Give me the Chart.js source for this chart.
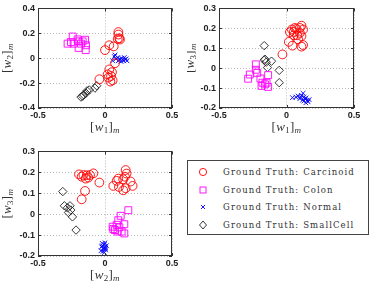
<!DOCTYPE html>
<html>
<head>
<meta charset="utf-8">
<script src="https://cdn.jsdelivr.net/npm/chart.js@4.4.1/dist/chart.umd.min.js"></script>
<style>
  body { margin: 0; background: #fff; width: 374px; height: 286px; position: relative; overflow: hidden; }
  canvas { position: absolute; }
  #legend { position: absolute; left: 187px; top: 160px; width: 182px; height: 75px; box-sizing: border-box;
            border: 1px solid #444; background: #fff; }
  .row { position: absolute; left: 0; height: 14px; font: 8.5px "DejaVu Serif", serif; letter-spacing: 1.1px;
         color: #333; white-space: nowrap; line-height: 14px; }
  .row svg { position: absolute; left: 10px; top: 2px; }
  .row span { position: absolute; left: 35px; }
</style>
</head>
<body>
<canvas id="c1" width="187" height="143" style="left:0;top:0"></canvas>
<canvas id="c2" width="187" height="143" style="left:187px;top:0"></canvas>
<canvas id="c3" width="187" height="143" style="left:0;top:143px"></canvas>
<div id="legend">
  <div class="row" style="top:4px"><svg width="10" height="10"><circle cx="5" cy="5" r="3.6" fill="none" stroke="#f00" stroke-width="0.9"/></svg><span>Ground Truth: Carcinoid</span></div>
  <div class="row" style="top:22px"><svg width="10" height="10"><rect x="2" y="2" width="6" height="6" fill="none" stroke="#f0f" stroke-width="0.9"/></svg><span>Ground Truth: Colon</span></div>
  <div class="row" style="top:39px"><svg width="10" height="10"><path d="M3 3L7 7M7 3L3 7" stroke="#00f" stroke-width="0.9"/></svg><span>Ground Truth: Normal</span></div>
  <div class="row" style="top:57px"><svg width="10" height="10"><path d="M5 1L8.5 5L5 9L1.5 5Z" fill="none" stroke="#222" stroke-width="0.9"/></svg><span>Ground Truth: SmallCell</span></div>
</div>
<script>
// tick values
const xTicks = [-0.5, 0, 0.5];
const yTicks1 = [-0.4, -0.2, 0, 0.2, 0.4];
const yTicks23 = [-0.2, -0.1, 0, 0.1, 0.2, 0.3];

// panel 1: w1 vs w2
const carcinoid12 = [[0.10,0.21],[0.10,0.19],[0.107,0.16],[0.112,0.15],[0.095,0.155],[0.065,0.095],[0.032,0.104],[0.0,0.065],
  [0.075,-0.04],[0.032,-0.09],[0.052,-0.112],[0.02,-0.13],[0.045,-0.143],[0.025,-0.156],[0.057,-0.177],[0.04,-0.188],[-0.042,-0.169]];
const colon12 = [[-0.241,0.174],[-0.279,0.117],[-0.234,0.117],[-0.197,0.135],[-0.149,0.148],[-0.142,0.104],[-0.144,0.065],
  [-0.197,0.083],[-0.179,0.117],[-0.254,0.13],[-0.167,0.135],[-0.204,0.151]];
const normal12 = [[0.07,0.013],[0.082,-0.005],[0.107,-0.013],[0.124,0],[0.139,-0.021],[0.157,-0.005],[0.119,-0.026],[0.095,0.005],
  [0.144,0.005],[0.114,-0.008],[0.132,-0.013],[0.164,-0.021],[0.057,-0.021],[0.075,0.026],[0.15,-0.01],[0.1,-0.02]];
const smallcell12 = [[-0.179,-0.312],[-0.167,-0.305],[-0.159,-0.294],[-0.142,-0.281],[-0.134,-0.262],[-0.117,-0.255],[-0.075,-0.24],[-0.062,-0.221]];

// panel 2: w1 vs w3
const carcinoid13 = [[0.04,0.194],[0.054,0.182],[0.074,0.197],[0.099,0.202],[0.111,0.213],[0.123,0.194],[0.099,0.177],[0.054,0.165],
  [0.079,0.165],[0.111,0.161],[0.017,0.132],[0.044,0.113],[0.123,0.116],[0.111,0.108],[0.086,0.145],[0.062,0.202],[0.025,0.181],[-0.03,0.069]];
const colon13 = [[-0.227,0.019],[-0.227,-0.008],[-0.272,-0.032],[-0.284,-0.053],[-0.193,-0.052],[-0.178,-0.073],[-0.148,-0.073],
  [-0.136,-0.035],[-0.185,-0.089],[-0.136,-0.094],[-0.16,-0.081],[-0.217,-0.024]];
const normal13 = [[0.044,-0.148],[0.069,-0.145],[0.086,-0.14],[0.111,-0.137],[0.123,-0.126],[0.136,-0.153],[0.153,-0.161],[0.119,-0.161],
  [0.143,-0.174],[0.168,-0.158],[0.099,-0.153],[0.128,-0.145],[0.16,-0.169],[0.13,-0.165],[0.105,-0.145],[0.145,-0.15]];
const smallcell13 = [[-0.165,0.113],[-0.165,0.04],[-0.111,0.035],[-0.141,0.003],[-0.054,-0.011],[-0.054,-0.073],[-0.15,0.03],[-0.16,0.045]];

// panel 3: w2 vs w3
const carcinoid23 = [[-0.194,0.19],[-0.174,0.179],[-0.136,0.186],[-0.124,0.175],[-0.087,0.195],[-0.112,0.187],[-0.144,0.17],[-0.042,0.151],
  [-0.149,0.111],[-0.174,0.071],[-0.161,0.187],[0.062,0.135],[0.087,0.159],[0.099,0.17],[0.154,0.211],[0.161,0.194],[0.149,0.179],
  [0.136,0.167],[0.191,0.156],[0.206,0.135],[0.136,0.114],[0.154,0.124],[0.104,0.13]];
const colon23 = [[0.174,0.019],[0.117,-0.008],[0.099,-0.029],[0.057,-0.06],[0.087,-0.051],[0.074,-0.076],[0.107,-0.063],[0.144,-0.048],
  [0.124,-0.083],[0.144,-0.092],[0.094,-0.083],[0.062,-0.071]];
const normal23 = [[-0.02,-0.14],[-0.005,-0.146],[-0.025,-0.156],[0,-0.159],[-0.012,-0.167],[0.005,-0.171],[-0.03,-0.175],[-0.005,-0.183],
  [-0.02,-0.151],[-0.01,-0.162],[0,-0.137],[0.01,-0.151],[-0.015,-0.178],[0.005,-0.163]];
const smallcell23 = [[-0.315,0.108],[-0.303,0.04],[-0.261,0.04],[-0.273,0.008],[-0.243,-0.013],[-0.216,-0.076],[-0.28,0.03],[-0.255,0.02]];

const toXY = arr => arr.map(([x, y]) => ({x, y}));

function sets(carc, colon, normal, small) {
  return [
    {label: 'Carcinoid', data: toXY(carc), pointStyle: 'circle', pointRadius: 4.4, borderColor: '#ff0000'},
    {label: 'Colon', data: toXY(colon), pointStyle: 'rect', pointRadius: 4.9, borderColor: '#ff00ff'},
    {label: 'Normal', data: toXY(normal), pointStyle: 'crossRot', pointRadius: 3.3, borderColor: '#0000ff'},
    {label: 'SmallCell', data: toXY(small), pointStyle: 'rectRot', pointRadius: 4.2, borderColor: '#222'}
  ].map(d => Object.assign(d, {backgroundColor: 'rgba(0,0,0,0)', pointBorderWidth: 0.9, pointHoverRadius: d.pointRadius}));
}

function fmt(v) { return String(Math.round(v * 10) / 10); }

// draws "[w_k]_m" with italic w and subscripts
function axisLabel(ctx, cx, cy, k, rotate) {
  const big = '13px "Liberation Serif", serif';
  const bigI = 'italic 13px "Liberation Serif", serif';
  const sm = '9px "Liberation Serif", serif';
  const smI = 'italic 9px "Liberation Serif", serif';
  const parts = [['[', big, 0], ['w', bigI, 0], [k, sm, 3], [']', big, 0], ['m', smI, 3]];
  let total = 0;
  parts.forEach(p => { ctx.font = p[1]; p.push(ctx.measureText(p[0]).width + 0.3); total += p[3]; });
  ctx.save();
  ctx.translate(cx, cy);
  if (rotate) ctx.rotate(-Math.PI / 2);
  ctx.fillStyle = '#333';
  ctx.textBaseline = 'middle';
  let x = -total / 2;
  parts.forEach(p => { ctx.font = p[1]; ctx.fillText(p[0], x, p[2]); x += p[3]; });
  ctx.restore();
}

const boxPlugin = {
  id: 'box',
  afterDraw(chart) {
    const {ctx, chartArea: a, scales} = chart;
    const o = chart.options.plugins.box;
    ctx.save();
    ctx.strokeStyle = '#333';
    ctx.lineWidth = 1;
    ctx.strokeRect(Math.round(a.left) + 0.5, Math.round(a.top) + 0.5, Math.round(a.right - a.left) - 1, Math.round(a.bottom - a.top) - 1);
    ctx.beginPath();
    scales.x.ticks.forEach(t => {
      const px = Math.round(scales.x.getPixelForValue(t.value)) + 0.5;
      ctx.moveTo(px, a.bottom); ctx.lineTo(px, a.bottom - 3);
      ctx.moveTo(px, a.top); ctx.lineTo(px, a.top + 3);
    });
    scales.y.ticks.forEach(t => {
      const py = Math.round(scales.y.getPixelForValue(t.value)) + 0.5;
      ctx.moveTo(a.left, py); ctx.lineTo(a.left + 3, py);
      ctx.moveTo(a.right, py); ctx.lineTo(a.right - 3, py);
    });
    ctx.stroke();
    ctx.restore();
    axisLabel(ctx, (a.left + a.right) / 2, a.bottom + o.xGap, o.xk, false);
    axisLabel(ctx, o.yX, (a.top + a.bottom) / 2, o.yk, true);
  }
};

function makeChart(id, data, yTicks, yMin, yMax, pad, yW, xH, lab) {
  const gridCommon = {color: '#b8b8b8', lineWidth: 1, drawTicks: false};
  return new Chart(document.getElementById(id), {
    type: 'scatter',
    data: {datasets: data},
    plugins: [boxPlugin],
    options: {
      responsive: false,
      animation: false,
      layout: {padding: pad},
      plugins: {legend: {display: false}, tooltip: {enabled: false}, box: lab},
      scales: {
        x: {
          min: -0.5, max: 0.5,
          afterBuildTicks: s => { s.ticks = xTicks.map(v => ({value: v})); },
          afterFit: s => { s.height = xH; },
          grid: gridCommon,
          border: {display: false, dash: [1, 2]},
          ticks: {callback: fmt, padding: 2, color: '#222', font: {family: 'Liberation Sans', size: 9, weight: 'bold'}, maxRotation: 0}
        },
        y: {
          min: yMin, max: yMax,
          afterBuildTicks: s => { s.ticks = yTicks.map(v => ({value: v})); },
          afterFit: s => { s.width = yW; },
          grid: gridCommon,
          border: {display: false, dash: [1, 2]},
          ticks: {callback: fmt, padding: 3, color: '#222', font: {family: 'Liberation Sans', size: 9, weight: 'bold'}}
        }
      }
    }
  });
}

makeChart('c1', sets(carcinoid12, colon12, normal12, smallcell12), yTicks1, -0.4, 0.4,
  {top: 6, right: 15, left: 0, bottom: 0}, 38, 35, {xk: '1', yk: '2', xGap: 20, yX: 8});
makeChart('c2', sets(carcinoid13, colon13, normal13, smallcell13), yTicks23, -0.2, 0.3,
  {top: 5, right: 20, left: 0, bottom: 0}, 32, 35, {xk: '1', yk: '3', xGap: 20, yX: 4});
makeChart('c3', sets(carcinoid23, colon23, normal23, smallcell23), yTicks23, -0.2, 0.3,
  {top: 7, right: 15, left: 0, bottom: 0}, 38, 30, {xk: '2', yk: '3', xGap: 20, yX: 8});
</script>
</body>
</html>
